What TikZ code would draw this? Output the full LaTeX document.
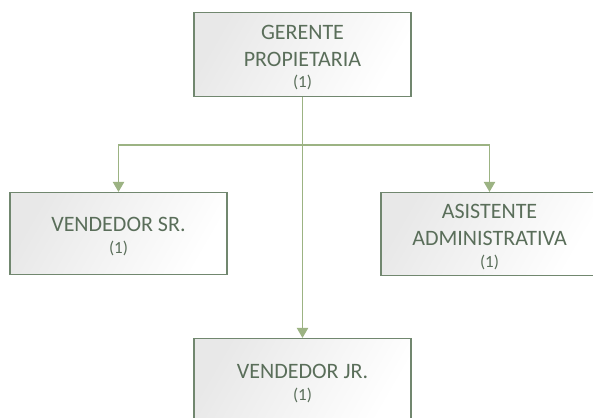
\documentclass[tikz,border=0pt]{standalone}
\usepackage{fontspec}
\setmainfont{Carlito}
\usetikzlibrary{arrows.meta}
\definecolor{boxline}{HTML}{71876F}
\definecolor{boxtext}{HTML}{5A6E5A}
\definecolor{link}{HTML}{9CB383}
% smaller type for the head count under each role
\newcommand{\staffsize}{\fontsize{17}{20}\selectfont}
% taller first line, so the text block sits a little below the box centre
\newcommand{\toppad}{\rule{0pt}{20pt}}
\begin{document}
\begin{tikzpicture}[x=1pt,y=1pt,
  role/.style={draw=boxline, line width=1.4pt, left color=black!9, right color=white,
    shading angle=60,
    minimum width=217pt, minimum height=84pt, inner sep=0pt, align=center,
    text=boxtext, font=\fontsize{22}{26.6}\selectfont, anchor=north},
  link/.style={draw=link, line width=1.9pt, -{Triangle[length=10pt,width=11pt]}}]
\useasboundingbox (0,0) rectangle (593,417);
\begin{scope}
\clip (0,0) rectangle (593,417);
\node[role] (boss) at (302.5,405) {\toppad GERENTE\\PROPIETARIA\\[-5pt]{\staffsize (1)}};
\node[role, minimum height=82pt] (sr) at (118.5,225) {\toppad VENDEDOR SR.\\[-5pt]{\staffsize (1)}};
\node[role, minimum height=83pt] (asst) at (489.5,225) {\toppad ASISTENTE\\ADMINISTRATIVA\\[-5pt]{\staffsize (1)}};
\node[role] (jr) at (302.5,79) {\toppad VENDEDOR JR.\\[-5pt]{\staffsize (1)}};
\coordinate (split) at (302.5,272);
\draw[link] (boss.south) -- (jr.north);
\draw[link] (split) -| (sr.north);
\draw[link] (split) -| (asst.north);
\end{scope}
\end{tikzpicture}
\end{document}
